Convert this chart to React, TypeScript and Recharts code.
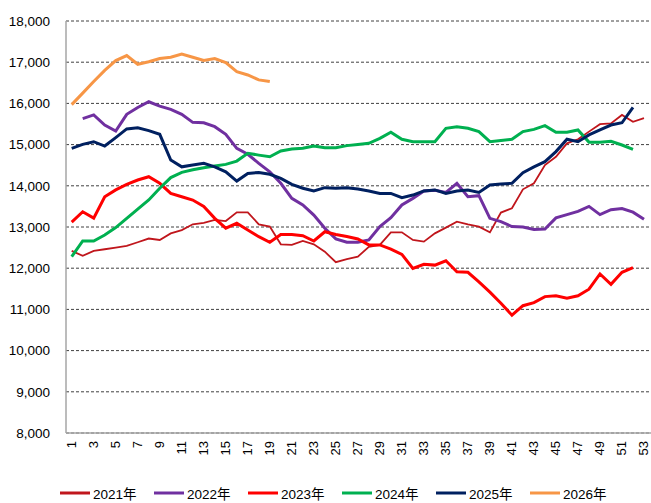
import React from 'react';
import { LineChart, Line, XAxis, YAxis, CartesianGrid } from 'recharts';

const weeks = [
  '1', '2', '3', '4', '5', '6', '7', '8', '9', '10', '11', '12', '13', '14', '15', '16', '17', '18',
  '19', '20', '21', '22', '23', '24', '25', '26', '27', '28', '29', '30', '31', '32', '33', '34', '35',
  '36', '37', '38', '39', '40', '41', '42', '43', '44', '45', '46', '47', '48', '49', '50', '51', '52', '53',
];

const y2021 = [
  12420, 12300, 12420, 12460, 12500, 12540, 12630, 12720, 12685, 12845, 12925, 13065, 13100, 13170,
  13145, 13355, 13355, 13065, 13010, 12580, 12565, 12660, 12580, 12400, 12145, 12220, 12280, 12520,
  12565, 12870, 12870, 12685, 12645, 12845, 12985, 13130, 13065, 13010, 12870, 13350, 13455, 13915,
  14060, 14505, 14705, 15030, 15130, 15315, 15495, 15515, 15720, 15555, 15640,
];

const y2022 = [
  null, 15630, 15720, 15475, 15330, 15735, 15900, 16040, 15935, 15855, 15735, 15540, 15530, 15435,
  15250, 14910, 14765, 14545, 14340, 14060, 13695, 13535, 13290, 12970, 12710, 12630, 12630, 12685,
  13010, 13225, 13535, 13695, 13875, 13890, 13840, 14060, 13735, 13760, 13210, 13130, 13010, 13000,
  12940, 12950, 13220, 13300, 13380, 13500, 13300, 13420, 13450, 13360, 13190,
];

const y2023 = [
  13120, 13370, 13215, 13735, 13900, 14035, 14140, 14220, 14060, 13815, 13735, 13655, 13500, 13210,
  12970, 13090, 12925, 12765, 12630, 12820, 12820, 12790, 12660, 12885, 12820, 12770, 12710, 12565,
  12565, 12465, 12335, 11995, 12095, 12075, 12180, 11915, 11900, 11670, 11420, 11150, 10860, 11090,
  11165, 11310, 11330, 11270, 11330, 11490, 11860, 11610, 11900, 12015, null,
];

const y2024 = [
  12280, 12660, 12660, 12805, 12985, 13210, 13435, 13655, 13940, 14200, 14325, 14390, 14440, 14480,
  14520, 14600, 14790, 14745, 14705, 14845, 14895, 14910, 14965, 14925, 14925, 14975, 15005, 15030,
  15150, 15300, 15130, 15070, 15070, 15070, 15395, 15435, 15395, 15315, 15070, 15100, 15130, 15315,
  15370, 15460, 15300, 15300, 15355, 15060, 15060, 15080, 14990, 14885, null,
];

const y2025 = [
  14910, 15005, 15070, 14965, 15170, 15380, 15410, 15340, 15250, 14625, 14460, 14505, 14545, 14460,
  14340, 14115, 14300, 14325, 14280, 14180, 14035, 13940, 13875, 13955, 13940, 13955, 13920, 13875,
  13815, 13815, 13710, 13775, 13875, 13900, 13815, 13875, 13900, 13840, 14020, 14045, 14060, 14320,
  14460, 14585, 14830, 15130, 15070, 15235, 15355, 15475, 15530, 15905, null,
];

const y2026 = [
  15970, 16250, 16530, 16800, 17040, 17160, 16950, 17010, 17090, 17120, 17200, 17120, 17040, 17090,
  16990, 16770, 16690, 16570, 16530,
];

const yTicks = [8000, 9000, 10000, 11000, 12000, 13000, 14000, 15000, 16000, 17000, 18000];

const seriesNames = ['2021年', '2022年', '2023年', '2024年', '2025年', '2026年'];
const seriesValues = [y2021, y2022, y2023, y2024, y2025, y2026];
const colors = ['#C0161C', '#7030A0', '#FF0000', '#00B050', '#002060', '#F79646'];
const widths = [1.8, 3, 3, 3, 3, 3];

const data = weeks.map((w, i) => {
  const row: Record<string, any> = { week: w };
  seriesNames.forEach((name, s) => {
    const v = seriesValues[s][i];
    row[name] = v === undefined ? null : v;
  });
  return row;
});

const font = '"Liberation Sans", "Noto Sans CJK SC", sans-serif';

const WeekTick = (props: any) => {
  const { x, y, payload } = props;
  return (
    <text
      x={x}
      y={y}
      transform={`rotate(-90, ${x}, ${y})`}
      textAnchor="end"
      dy="0.34em"
      fontSize={13}
      fill="#000"
      fontFamily={font}
    >
      {payload.value}
    </text>
  );
};

export default function App() {
  return (
    <div style={{ position: 'absolute', left: 0, top: 0, width: 651, height: 503, fontFamily: font }}>
      <LineChart width={651} height={503} data={data} margin={{ top: 21, right: 0, bottom: 30, left: 0 }}>
        <CartesianGrid vertical={false} stroke="#404040" strokeDasharray="3 2" />
        <XAxis
          dataKey="week"
          interval={1}
          height={40}
          padding={{ left: 5.7, right: 7 }}
          tick={<WeekTick />}
          tickLine={false}
          axisLine={{ stroke: '#a6a6a6', strokeWidth: 1.5 }}
        />
        <YAxis
          width={66}
          domain={[8000, 18000]}
          ticks={yTicks}
          tickFormatter={(v: number) => v.toLocaleString('en-US')}
          tick={{ fontSize: 13.5, fill: '#000', fontFamily: font }}
          tickLine={false}
          tickMargin={10}
          axisLine={{ stroke: '#a6a6a6', strokeWidth: 1.5 }}
          allowDataOverflow
        />
        {seriesNames.map((name, s) => (
          <Line
            key={name}
            type="linear"
            dataKey={name}
            stroke={colors[s]}
            strokeWidth={widths[s]}
            dot={false}
            activeDot={false}
            isAnimationActive={false}
          />
        ))}
      </LineChart>
      <div
        style={{
          position: 'absolute',
          left: 60,
          top: 483,
          display: 'flex',
          fontSize: 13.5,
          color: '#000',
        }}
      >
        {seriesNames.map((name, s) => (
          <div key={name} style={{ width: 94, display: 'flex', alignItems: 'center' }}>
            <svg width={30} height={4} style={{ marginRight: 3 }}>
              <line x1={0} y1={2} x2={30} y2={2} stroke={colors[s]} strokeWidth={3} />
            </svg>
            <span>{name}</span>
          </div>
        ))}
      </div>
    </div>
  );
}
